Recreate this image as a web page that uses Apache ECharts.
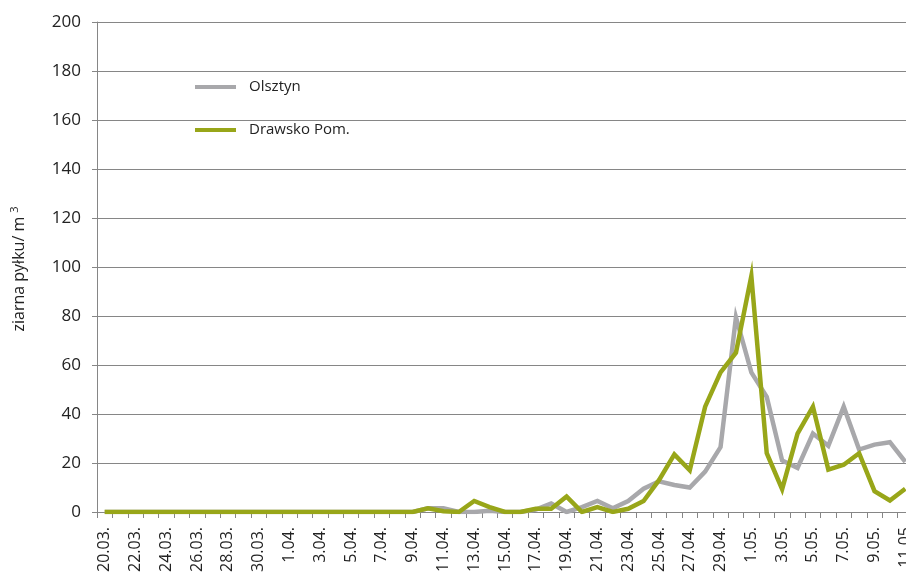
<!DOCTYPE html>
<html>
<head>
<meta charset="utf-8">
<script src="https://cdn.jsdelivr.net/npm/echarts@6/dist/echarts.min.js"></script>
<style>
html,body{margin:0;padding:0;background:#fff;}
#main{width:906px;height:577px;}
</style>
</head>
<body>
<div id="main"></div>
<script>
const categories = [
  "20.03.","21.03.","22.03.","23.03.","24.03.","25.03.","26.03.","27.03.","28.03.","29.03.","30.03.","31.03.",
  "1.04.","2.04.","3.04.","4.04.","5.04.","6.04.","7.04.","8.04.","9.04.","10.04.","11.04.","12.04.","13.04.",
  "14.04.","15.04.","16.04.","17.04.","18.04.","19.04.","20.04.","21.04.","22.04.","23.04.","24.04.","25.04.",
  "26.04.","27.04.","28.04.","29.04.","30.04.",
  "1.05.","2.05.","3.05.","4.05.","5.05.","6.05.","7.05.","8.05.","9.05.","10.05.","11.05"
];
const olsztyn = [
  0,0,0,0,0,0,0,0,0,0,0,0,0,0,0,0,0,0,0,0,0,
  1.5,1.5,0,0,0.5,0,0,1,3.5,0,2,4.5,1.5,4.5,9.5,12.5,11,10,16.5,26.5,79.5,
  57,47,21,18,32,27,43,25.5,27.5,28.5,20.5
];
const drawsko = [
  0,0,0,0,0,0,0,0,0,0,0,0,0,0,0,0,0,0,0,0,0,
  1.5,0.3,0,4.5,2,0,0,1.3,1.3,6.3,0,2,0,1.3,4.5,13,23.5,17,43,57,65,
  96.3,24,9.3,32,43,17.3,19.3,24,8.5,4.7,9.5
];
const seriesNames = ["Olsztyn", "Drawsko Pom."];
const yTicks = {min: 0, max: 200, interval: 20};
const yAxisTitle = "ziarna pyłku/ m";
const yAxisTitleSup = "3";

const FONT = "'Open Sans', sans-serif";
const GREY = '#A8A8AB';
const GREEN = '#98A619';
const chart = echarts.init(document.getElementById('main'), null, {renderer: 'canvas'});
chart.setOption({
  animation: false,
  backgroundColor: '#fff',
  grid: {left: 97, right: -7, top: 22, bottom: 65, containLabel: false, outerBoundsMode: 'none'},
  legend: {
    orient: 'vertical',
    left: 190, top: 74,
    icon: 'rect',
    itemWidth: 41, itemHeight: 4, itemGap: 27,
    data: [
      {name: seriesNames[0], itemStyle: {color: GREY}},
      {name: seriesNames[1], itemStyle: {color: GREEN}}
    ],
    textStyle: {fontFamily: FONT, fontSize: 15, lineHeight: 16, color: '#222', padding: [0,0,0,8]}
  },
  graphic: [{
    type: 'text',
    x: 19, y: 269,
    rotation: Math.PI / 2,
    style: {
      text: yAxisTitle + '{sup|' + yAxisTitleSup + '}',
      fontFamily: FONT, fontSize: 16, fill: '#222',
      textAlign: 'center', textVerticalAlign: 'middle',
      rich: {sup: {fontFamily: FONT, fontSize: 11, fill: '#222', verticalAlign: 'top', padding: [0,0,9,4]}}
    }
  }],
  xAxis: {
    type: 'category',
    data: categories,
    boundaryGap: true,
    axisLine: {show: true, lineStyle: {color: '#868686', width: 1}},
    axisTick: {show: true, interval: 0, length: 6, lineStyle: {color: '#868686'}},
    axisLabel: {
      interval: 1, rotate: 90, margin: 15,
      fontFamily: FONT, fontSize: 16, color: '#222'
    },
    splitLine: {show: false}
  },
  yAxis: {
    type: 'value',
    min: yTicks.min, max: yTicks.max, interval: yTicks.interval,
    axisLine: {show: true, lineStyle: {color: '#868686', width: 1}},
    axisTick: {show: true, length: 5, lineStyle: {color: '#868686'}},
    axisLabel: {margin: 16, fontFamily: FONT, fontSize: 17, color: '#222'},
    splitLine: {show: true, lineStyle: {color: '#868686', width: 1}}
  },
  series: [
    {
      name: seriesNames[0], type: 'line', data: olsztyn,
      symbol: 'none', showSymbol: false,
      lineStyle: {color: GREY, width: 4.5, join: 'miter'},
      itemStyle: {color: GREY}, z: 2
    },
    {
      name: seriesNames[1], type: 'line', data: drawsko,
      symbol: 'none', showSymbol: false,
      lineStyle: {color: GREEN, width: 4.5, join: 'miter'},
      itemStyle: {color: GREEN}, z: 3
    }
  ]
});
</script>
</body>
</html>
